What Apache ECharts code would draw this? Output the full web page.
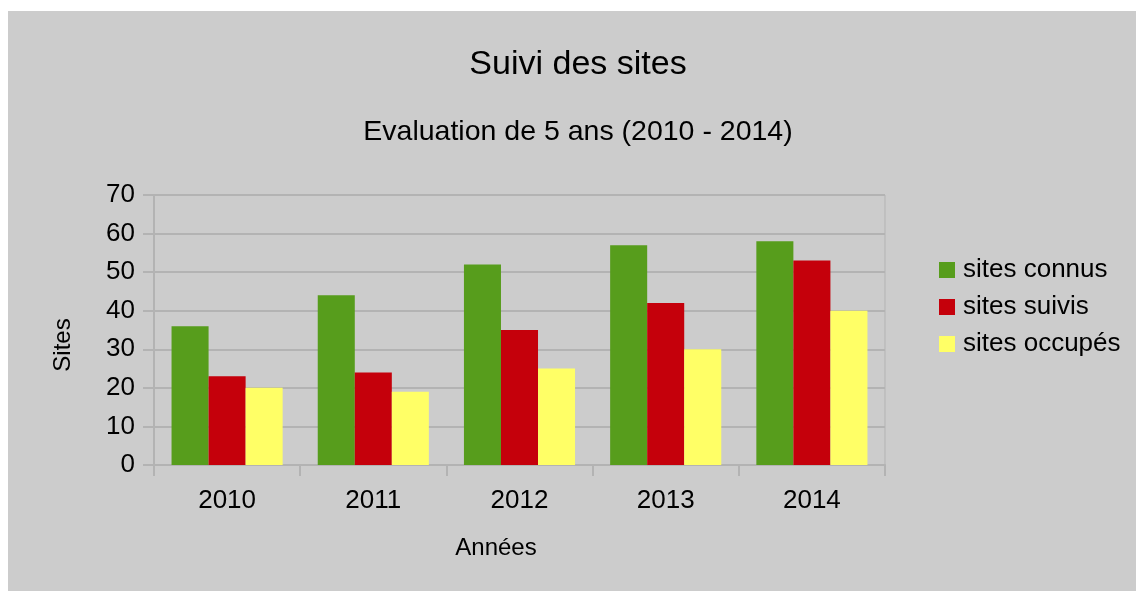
<!DOCTYPE html>
<html>
<head>
<meta charset="utf-8">
<title>Suivi des sites</title>
<script src="https://cdn.jsdelivr.net/npm/echarts@6/dist/echarts.min.js"></script>
<style>
    html, body { margin: 0; padding: 0; background: #ffffff; }
    #target { position: absolute; left: 8px; top: 11px; width: 1128px; height: 580px; }
</style>
</head>
<body>
<div id="target"></div>
<script>
// données
const years = ['2010', '2011', '2012', '2013', '2014'];
const sitesConnus = [36, 44, 52, 57, 58];
const sitesSuivis = [23, 24, 35, 42, 53];
const sitesOccupes = [20, 19, 25, 30, 40];
const seriesNames = ['sites connus', 'sites suivis', 'sites occupés'];
const seriesColors = ['#579d1c', '#c5000b', '#ffff66'];

const FONT = '"Liberation Sans", Arial, sans-serif';
const lineColor = '#b3b3b3';

let myChart = echarts.init(document.getElementById('target'));

const renderChart = () => {
    const options = {
        backgroundColor: '#cccccc',
        animation: false,
        textStyle: { fontFamily: FONT, color: '#000' },
        title: [
            {
                text: 'Suivi des sites',
                left: 565, top: 32, textAlign: 'center',
                textStyle: { fontFamily: FONT, fontSize: 34, fontWeight: 'normal', color: '#000' }
            },
            {
                text: 'Evaluation de 5 ans (2010 - 2014)',
                left: 565, top: 102, textAlign: 'center',
                textStyle: { fontFamily: FONT, fontSize: 28.5, fontWeight: 'normal', color: '#000' }
            }
        ],
        legend: {
            orient: 'vertical',
            left: 931, top: 246,
            padding: 0,
            itemWidth: 16, itemHeight: 16, itemGap: 11,
            icon: 'rect',
            textStyle: { fontFamily: FONT, fontSize: 26, color: '#000', lineHeight: 26, padding: [0, 0, 0, 3] },
            data: seriesNames
        },
        grid: {
            left: 146, right: 251, top: 184, bottom: 126,
            show: true, borderColor: lineColor, borderWidth: 1
        },
        xAxis: {
            type: 'category',
            data: years,
            name: 'Années',
            nameLocation: 'middle',
            nameGap: 71,
            nameTextStyle: { fontFamily: FONT, fontSize: 24, color: '#000', padding: [0, 47, 0, 0] },
            axisLine: { lineStyle: { color: lineColor, width: 2 } },
            axisTick: { show: true, length: 11, lineStyle: { color: lineColor, width: 2 } },
            axisLabel: { fontFamily: FONT, fontSize: 26, color: '#000', margin: 23 }
        },
        yAxis: {
            type: 'value',
            min: 0, max: 70, interval: 10,
            name: 'Sites',
            nameLocation: 'middle',
            nameGap: 79,
            nameTextStyle: { fontFamily: FONT, fontSize: 24, color: '#000', padding: [0, 30, 0, 0] },
            axisLine: { show: true, lineStyle: { color: lineColor, width: 2 } },
            axisTick: { show: true, length: 11, lineStyle: { color: lineColor, width: 2 } },
            axisLabel: { fontFamily: FONT, fontSize: 26, color: '#000', margin: 19 },
            splitLine: { show: true, lineStyle: { color: lineColor, width: 2 } }
        },
        series: [
            { name: seriesNames[0], type: 'bar', data: sitesConnus, itemStyle: { color: seriesColors[0] }, barGap: '0%', barCategoryGap: '24%' },
            { name: seriesNames[1], type: 'bar', data: sitesSuivis, itemStyle: { color: seriesColors[1] }, barGap: '0%', barCategoryGap: '24%' },
            { name: seriesNames[2], type: 'bar', data: sitesOccupes, itemStyle: { color: seriesColors[2] }, barGap: '0%', barCategoryGap: '24%' }
        ]
    };
    myChart.setOption(options);
};

renderChart();
</script>
</body>
</html>
